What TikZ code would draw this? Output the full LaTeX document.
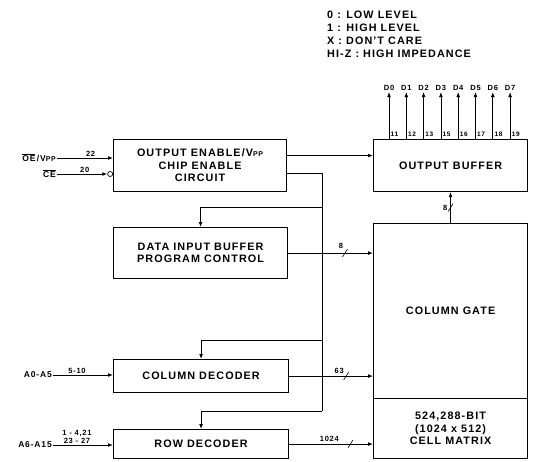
\documentclass[tikz,border=0pt]{standalone}
\usepackage{fontspec}
\setmainfont{Liberation Sans}[LetterSpace=10]
\usetikzlibrary{arrows.meta}

\tikzset{
  blk/.style={draw, line width=1.1pt, anchor=north west, align=center, inner sep=0pt,
    font=\fontsize{10.8}{12.5}\selectfont\bfseries},
  arr/.style={line width=0.8pt, -{Latex[length=5pt,width=3.8pt]}},
  wire/.style={line width=0.8pt},
  lab/.style={font=\fontsize{8.5}{9}\selectfont\bfseries, inner sep=1pt},
  pinlab/.style={font=\fontsize{7.5}{8}\selectfont\bfseries, inner sep=1pt},
  bubble/.style={circle, draw, line width=0.7pt, inner sep=0pt, minimum size=5pt},
  busmark/.pic={\draw[line width=0.6pt] (-2.5,4)--(2.5,-4);}
}

\begin{document}
\begin{tikzpicture}[x=1pt,y=-1pt]
\useasboundingbox (0,0) rectangle (533,461);
% legend
\node[anchor=north west, align=left, inner sep=0pt, font=\fontsize{10.8}{13}\selectfont\bfseries] (legend) at (327,11)
  {0 : LOW LEVEL\\1 : HIGH LEVEL\\X : DON'T CARE\\HI-Z : HIGH IMPEDANCE};

% blocks
\node[blk, minimum width=173, minimum height=52] (oe) at (113,139) {OUTPUT ENABLE/V{\scriptsize PP}\\CHIP ENABLE\\CIRCUIT};
\node[blk, minimum width=174, minimum height=51] (dib) at (113,227) {DATA INPUT BUFFER\\PROGRAM CONTROL};
\node[blk, minimum width=175, minimum height=33] (colD) at (113,359) {COLUMN DECODER};
\node[blk, minimum width=175, minimum height=29] (rowD) at (113,429) {ROW DECODER};
\node[blk, minimum width=154, minimum height=52] (obuf) at (373,139) {OUTPUT BUFFER};
\node[blk, minimum width=154, minimum height=175] (cg) at (373,223) {COLUMN GATE};
\node[blk, minimum width=154, minimum height=60] (cm) at (373,398) {524,288-BIT\\(1024 x 512)\\CELL MATRIX};

% inputs
\node[lab, anchor=east] (oein) at (57,158) {$\overline{\hbox{OE}}$\,/V{\scriptsize PP}};
\node[lab, anchor=east] (cein) at (57,174) {$\overline{\hbox{CE}}$};
\node[lab, anchor=east] (ain) at (53,375) {A0-A5};
\node[lab, anchor=east] (arow) at (53,445) {A6-A15};
\node[bubble, anchor=east] (bub) at (oe.west |- cein) {};

\draw[arr] (oein.east) -- node[pinlab, above, pos=.6] {22} (oein.east -| oe.west);
\draw[arr] (cein.east) -- node[pinlab, above, pos=.55] {20} (bub.west);
\draw[arr] (ain.east) -- node[pinlab, above, pos=.4] {5-10} (ain.east -| colD.west);
\draw[arr] (arow.east) -- node[pinlab, above, pos=.4, align=center] {1 - 4,21\\23 - 27} (arow.east -| rowD.west);

% enable lines
\draw[arr] ([yshift=10pt]oe.east) -- ([yshift=10pt]oe.east -| obuf.west);
\coordinate (b1) at (322,207);
\coordinate (b2) at (322,340);
\coordinate (b3) at (322,411);
\draw[wire] ([yshift=-8pt]oe.east) -| (b3);
\draw[arr] (b1) -| (dib.north);
\draw[arr] (b2) -| (colD.north);
\draw[arr] (b3) -| (rowD.north);

% data paths
\draw[arr] (dib.east) -- coordinate[pos=.67] (s1) (dib.east -| cg.west);
\pic at (s1) {busmark};
\node[pinlab, anchor=south] at ([xshift=-4pt,yshift=3pt]s1) {8};
\draw[arr] (colD.east) -- coordinate[pos=.68] (s2) (colD.east -| cg.west);
\pic at (s2) {busmark};
\node[pinlab, anchor=south] at ([xshift=-7pt,yshift=1pt]s2) {63};
\draw[arr] (rowD.east) -- coordinate[pos=.73] (s3) (rowD.east -| cm.west);
\pic at (s3) {busmark};
\node[pinlab, anchor=south] at ([xshift=-21pt,yshift=1pt]s3) {1024};
\draw[arr] (cg.north) -- coordinate[pos=.5] (s4) (obuf.south);
\pic at (s4) {busmark};
\node[pinlab, anchor=east] at ([xshift=-2pt]s4) {8};

% output pins
\foreach \i/\p in {0/11,1/12,2/13,3/15,4/16,5/17,6/18,7/19}{
  \node[pinlab, anchor=south] (d\i) at ({389+17.3*\i},92) {D\i};
  \draw[arr] (obuf.north -| d\i) -- (d\i.south);
  \node[pinlab, anchor=south west, font=\fontsize{6.5}{7}\selectfont\bfseries] at ([xshift=0.5pt,yshift=1pt]obuf.north -| d\i) {\p};
}
\end{tikzpicture}
\end{document}
